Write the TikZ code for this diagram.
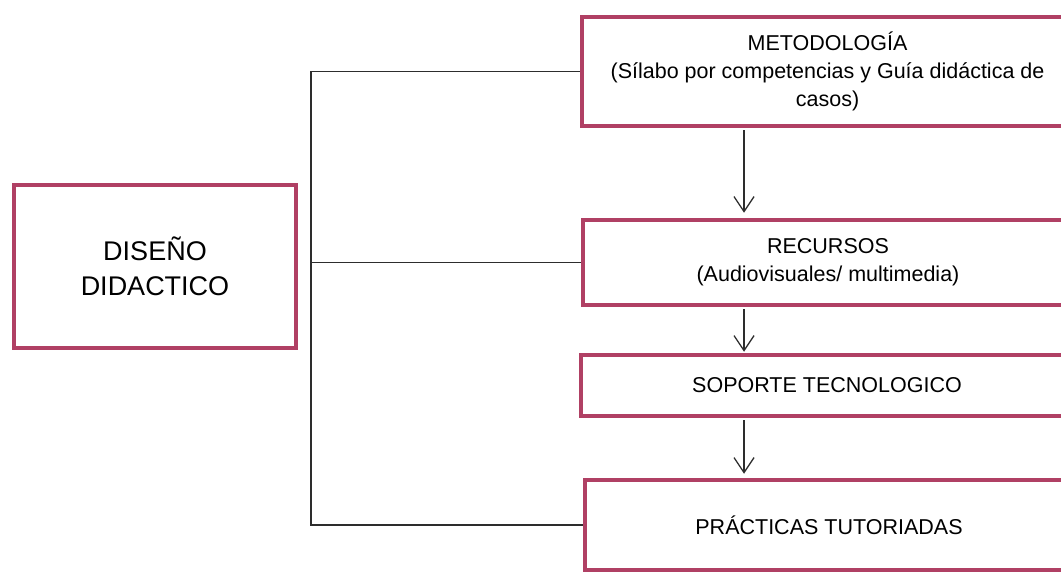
\documentclass[tikz,border=0pt]{standalone}
\usepackage{fontspec}
\setmainfont{Liberation Sans}
\usetikzlibrary{arrows.meta}
\definecolor{boxred}{RGB}{176,64,100}
\definecolor{conngray}{RGB}{45,45,45}
\begin{document}
\begin{tikzpicture}[x=1pt,y=-1pt,
  box/.style={draw=boxred, line width=4.5pt, fill=white, align=center, inner sep=0pt,
    font=\fontsize{21.5}{28}\selectfont},
  bigbox/.style={box, font=\fontsize{27}{35}\selectfont},
  conn/.style={draw=conngray, line width=1.3pt},
  arr/.style={conn, -{Straight Barb[length=15pt,width=20pt]}, shorten <=2pt}]
\clip (0,0) rectangle (1061,575);
\fill[white] (0,0) rectangle (1061,575);

\node[bigbox, minimum width=282pt, minimum height=163pt] (dis) at (155,266.5)
  {DISEÑO\\DIDACTICO};
\node[box, minimum width=491pt, minimum height=109pt] (meto) at (827.5,71.5)
  {METODOLOGÍA\\(Sílabo por competencias y Guía didáctica de\\casos)};
\node[box, minimum width=490pt, minimum height=85pt] (rec) at (828,262.5)
  {RECURSOS\\(Audiovisuales/ multimedia)};
\node[box, minimum width=492pt, minimum height=61pt] (sop) at (827,385.5)
  {SOPORTE TECNOLOGICO};
\node[box, minimum width=488pt, minimum height=90pt] (prac) at (829,525)
  {PRÁCTICAS TUTORIADAS};

\coordinate (bx) at (311,0);
\coordinate (ax) at (744,0);

\draw[conn] (meto.west) -| (bx |- prac.west) -- (prac.west);
\draw[conn] (rec.west) -- (bx |- rec.west);

\draw[arr, shorten >=5pt] (meto.south -| ax) -- (rec.north -| ax);
\draw[arr, shorten >=1pt] (rec.south -| ax) -- (sop.north -| ax);
\draw[arr, shorten >=4pt] (sop.south -| ax) -- (prac.north -| ax);
\end{tikzpicture}
\end{document}
